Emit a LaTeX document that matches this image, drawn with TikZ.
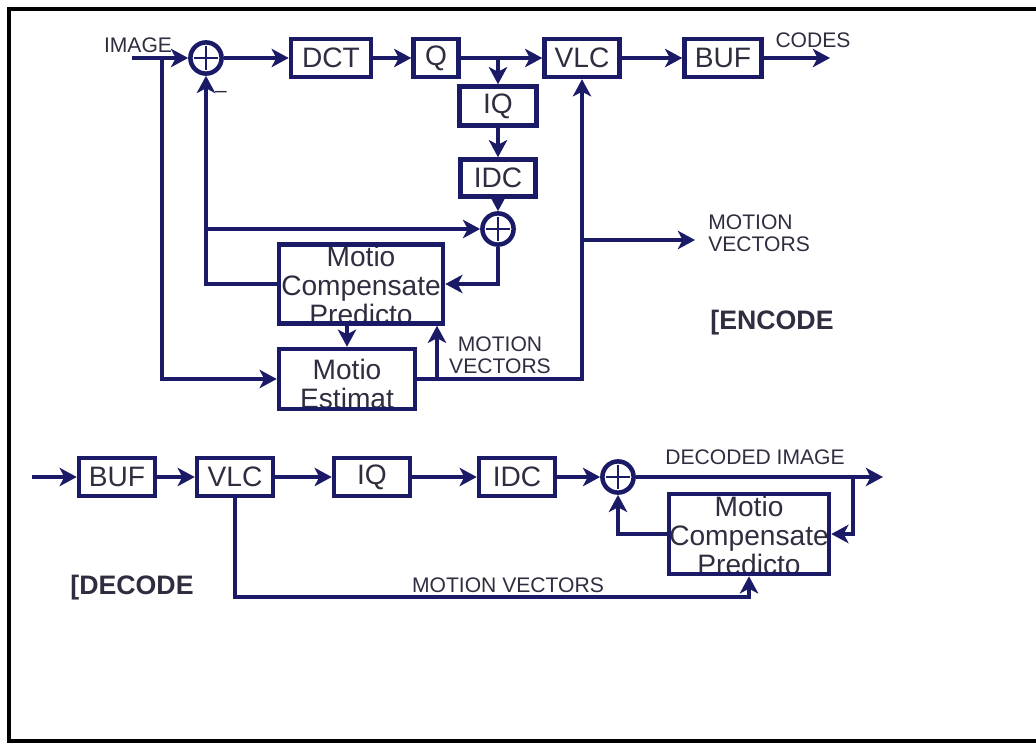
\documentclass[tikz,border=0pt]{standalone}
\usepackage{fontspec}
\setmainfont{Liberation Sans}
\usepackage{xcolor}
\usepackage{tikz}
\usetikzlibrary{arrows.meta}
\definecolor{mline}{HTML}{1A1A66}
\definecolor{mtext}{HTML}{2E2E40}

\begin{document}
\begin{tikzpicture}[x=0.025cm, y=-0.025cm,
  blk/.style={draw=mline, line width=3.2pt, inner sep=0pt, minimum height=0.95cm,
    text=mtext, font=\fontsize{20}{20.5}\selectfont},
  blktxt/.style={inner sep=0pt, align=center, text=mtext, font=\fontsize{20}{20.5}\selectfont},
  sumnode/.style={circle, draw=mline, line width=3.2pt, inner sep=0pt, minimum size=0.78cm,
    path picture={\draw[mline, line width=1.5pt]
      ([yshift=-0.08cm]path picture bounding box.north) -- ([yshift=0.08cm]path picture bounding box.south)
      ([xshift=0.08cm]path picture bounding box.west) -- ([xshift=-0.08cm]path picture bounding box.east);}},
  lbl/.style={inner sep=0pt, text=mtext, font=\fontsize{15}{15.6}\selectfont},
  ttl/.style={inner sep=0pt, text=mtext, font=\fontsize{19}{20}\selectfont\bfseries},
  wire/.style={draw=mline, line width=3.2pt},
  flow/.style={wire, -{Stealth[length=4.3mm, width=4.6mm, inset=1.2mm]}}]

  \useasboundingbox (0,0) rectangle (1036,742);

  %% Frame
  \draw[black, line width=2.2pt] (1040,9) -- (9,9) -- (9,741) -- (1040,741);

  %% Encoder blocks
  \node[sumnode] (sum1) at (206,58) {};
  \node[blk, minimum width=2.0cm] (dct) at (331,58) {DCT};
  \node[blk, minimum width=1.125cm] (q) at (436,58) {Q};
  \node[blk, minimum width=1.875cm] (vlc) at (582,58) {VLC};
  \node[blk, minimum width=1.925cm] (buf) at (723,58) {BUF};
  \node[blk, minimum width=1.925cm, minimum height=0.975cm] (iq) at (498,106) {IQ};
  \node[blk, minimum width=1.875cm, minimum height=0.925cm] (idc) at (498,178) {IDC};
  \node[sumnode] (sum2) at (498,229) {};
  \node[blktxt, anchor=south] (mcptxt) at (361,325) {Motio\\Compensate\\Predicto};
  \node[blk, minimum width=4.1cm, minimum height=1.975cm] (mcp) at (361,284) {};
  \node[blktxt, anchor=south] (metxt) at (347,409) {Motio\\Estimat};
  \node[blk, minimum width=3.4cm, minimum height=1.5cm] (me) at (347,379) {};

  \coordinate (imgin) at (132,58);
  \coordinate (imgsplit) at (162,58);
  \coordinate (codes) at (830,58);
  \coordinate (qsplit) at (498,58);
  \coordinate (mvsplit) at (437,380);
  \coordinate (mvout) at (695,240);

  %% Encoder connectors
  \draw[flow] (imgin) -- (sum1);
  \draw[flow] (imgsplit) |- (me.west);
  \draw[flow] (sum1) -- (dct);
  \draw[flow] (dct) -- (q);
  \draw[flow] (q) -- (vlc);
  \draw[flow] (vlc) -- (buf);
  \draw[flow] (buf) -- (codes);
  \draw[flow] (qsplit) -- (iq);
  \draw[flow] (iq) -- (idc);
  \draw[flow] (idc) -- (sum2);
  \draw[flow] (sum2.south) |- (mcp.east);
  \draw[flow] (mcp.west) -| (sum1.south);
  \draw[flow] (sum1.south |- sum2.west) -- (sum2.west);
  \draw[flow] (mcp.south -| me.north) -- (me.north);
  \draw[flow] (me.east) -| (vlc.south);
  \draw[flow] (mvsplit) -- (mvsplit |- mcp.south);
  \draw[flow] (vlc.south |- mvout) -- (mvout);

  %% Encoder labels
  \node[lbl] (imagelbl) at (138,45) {IMAGE};
  \node[lbl] (codeslbl) at (813,40) {CODES};
  \node[lbl] (minus) at (221,94) {–};
  \node[lbl, align=left, anchor=west] (mvright) at (708,233) {MOTION\\VECTORS};
  \node[lbl, align=center] (mvmid) at (500,355) {MOTION\\VECTORS};
  \node[ttl] (enclbl) at (772,323) {[ENCODE};

  %% Decoder blocks
  \foreach \nm/\x/\txt in {dbuf/117/BUF, dvlc/235/VLC, diq/372/IQ, didc/517/IDC}{
    \node[blk, minimum width=1.9cm] (\nm) at (\x,477) {\txt};
  }
  \node[sumnode] (sum3) at (618,477) {};
  \node[blktxt, anchor=south] (dmcptxt) at (749,575) {Motio\\Compensate\\Predicto};
  \node[blk, minimum width=4.0cm, minimum height=2.0cm] (dmcp) at (749,534) {};

  \coordinate (din) at (32,477);
  \coordinate (dout) at (883,477);
  \coordinate (dsplit) at (853,477);
  \coordinate (dmvbot) at (500,597);

  %% Decoder connectors
  \draw[flow] (din) -- (dbuf);
  \draw[flow] (dbuf) -- (dvlc);
  \draw[flow] (dvlc) -- (diq);
  \draw[flow] (diq) -- (didc);
  \draw[flow] (didc) -- (sum3);
  \draw[flow] (sum3) -- (dout);
  \draw[flow] (dsplit) |- (dmcp.east);
  \draw[flow] (dmcp.west) -| (sum3.south);
  \draw[flow] (dvlc.south) |- (dmvbot) -| (dmcp.south);

  %% Decoder labels
  \node[lbl] (declbl) at (755,457) {DECODED IMAGE};
  \node[lbl, anchor=south] (dmvlbl) at (508,593) {MOTION VECTORS};
  \node[ttl] (decttl) at (132,588) {[DECODE};

\end{tikzpicture}
\end{document}
